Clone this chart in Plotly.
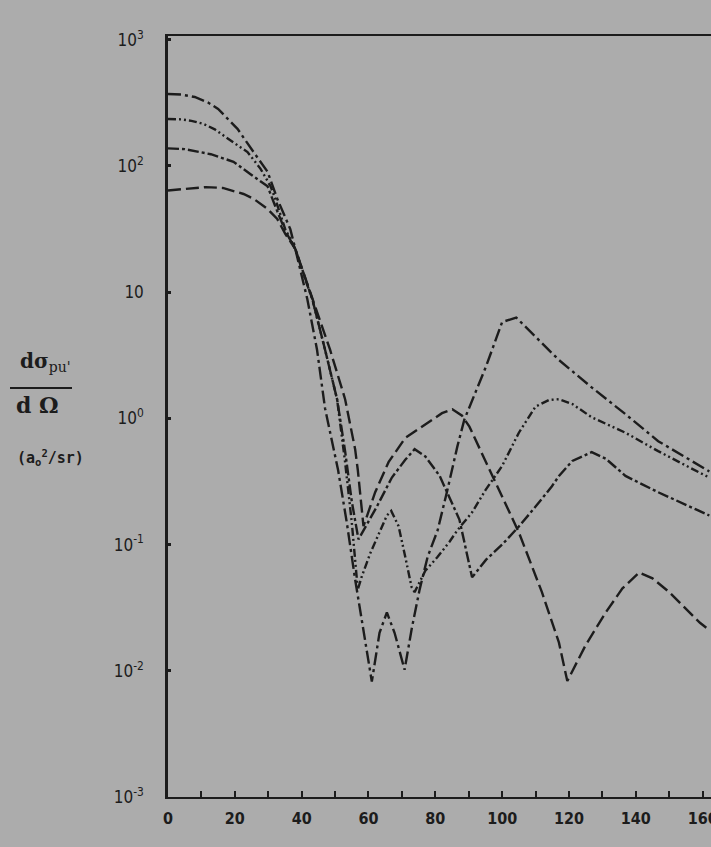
import plotly.graph_objects as go

# Scattering angle (deg) and cross section values (a0^2/sr)
deg_a = [0, 4, 8, 12, 15, 20.8, 25.6, 29.8, 32.7, 36.6, 38.1, 41.7, 44.6, 47, 50.9, 53.5, 56, 58.5, 61,
         63.3, 65.5, 67.8, 70.8, 73, 75.3, 77.7, 80.7, 83.6, 86.6, 88.7, 92, 95.2, 100, 104.2, 108,
         112, 117, 126.8, 136.9, 146.7, 159.2, 162]
val_a = [372, 368, 352, 318, 283, 197, 129, 90, 55, 31.6, 22, 8.8, 3.5, 1.2, 0.39, 0.15, 0.053, 0.021, 0.0082,
         0.02, 0.029, 0.02, 0.0102, 0.022, 0.044, 0.080, 0.13, 0.27, 0.60, 0.98, 1.6, 2.59, 5.8, 6.3, 5.0,
         3.9, 2.9, 1.76, 1.08, 0.66, 0.42, 0.38]

deg_b = [0, 4, 7, 10.7, 14, 17.9, 20.8, 23.8, 27.7, 30.7, 32.1, 35, 38.1, 40.5, 43.2, 47, 50.6, 53, 55,
         56.8, 58, 60.5, 62.8, 65.5, 66.8, 69, 71, 72.9, 73.8, 77, 80.7, 84.2, 86.6, 91, 95, 100, 105,
         110, 114, 117, 121, 126.8, 136.9, 146.7, 159.2, 162]
val_b = [236, 234, 228, 215, 195, 164, 146, 129, 95, 69, 55, 32, 22, 14, 8.8, 3.5, 1.42, 0.45, 0.15,
         0.044, 0.056, 0.085, 0.116, 0.17, 0.185, 0.14, 0.08, 0.046, 0.042, 0.062, 0.08, 0.105, 0.13,
         0.18, 0.27, 0.42, 0.77, 1.24, 1.4, 1.42, 1.3, 1.02, 0.77, 0.55, 0.37, 0.34]

deg_c = [0, 5, 12.8, 19.6, 24.7, 29.8, 32.1, 35, 38.1, 43.2, 47, 50.6, 53, 55, 57, 62.5, 67, 71, 73.8,
         77, 81.3, 87.2, 91, 95.2, 100, 105, 110, 114.9, 117, 121, 126.8, 131, 136.9, 146.7, 158, 162]
val_c = [138, 136, 124, 108, 86, 69, 48, 31, 22, 8.8, 3.5, 1.42, 0.55, 0.22, 0.11, 0.2, 0.34, 0.47, 0.57,
         0.5, 0.35, 0.158, 0.055, 0.076, 0.1, 0.139, 0.2, 0.29, 0.35, 0.46, 0.54, 0.48, 0.35, 0.26, 0.19, 0.17]

deg_d = [0, 5, 11.3, 16.4, 22.6, 25.6, 29.8, 32.7, 35.1, 38.1, 43.2, 48.5, 53, 56, 56.8, 58.5, 62, 66,
         71, 78.3, 82, 85.1, 88, 90.2, 97, 105, 111.9, 117, 119.5, 125, 131, 136, 141, 145, 150, 159.2, 162]
val_d = [64, 66, 68, 67, 60, 55, 45.6, 38, 29, 22, 8.8, 3.5, 1.42, 0.57, 0.39, 0.14, 0.26, 0.45,
         0.7, 0.95, 1.1, 1.18, 1.05, 0.86, 0.35, 0.125, 0.042, 0.0167, 0.0083, 0.016, 0.029, 0.045, 0.060,
         0.054, 0.042, 0.024, 0.021]

x_tickvals = [0, 20, 40, 60, 80, 100, 120, 140, 160]
x_ticktext = ["0", "20", "40", "60", "80", "100", "120", "140", "160"]
y_tickvals = [1e-3, 1e-2, 1e-1, 1, 10, 100, 1000]
y_ticktext = ["10<sup>-3</sup>", "10<sup>-2</sup>", "10<sup>-1</sup>", "10<sup>0</sup>", "10",
              "10<sup>2</sup>", "10<sup>3</sup>"]

INK = "#1c1c1c"
BG = "#acacac"
TICKFONT = "Liberation Sans Narrow, DejaVu Sans Condensed, DejaVu Sans"

fig = go.Figure()
series = [
    (deg_a, val_a, "13px,4px,3px,4px"),
    (deg_b, val_b, "8px,3px,2px,3px,2px,3px"),
    (deg_c, val_c, "11px,3px,3px,3px"),
    (deg_d, val_d, "13px,5px"),
]
for xs, ys, dash in series:
    fig.add_trace(go.Scatter(x=xs, y=ys, mode="lines",
                             line=dict(color=INK, width=2.4, dash=dash),
                             showlegend=False, hoverinfo="skip"))

L, T, B = 168, 36, 50
W, H = 711, 847
pw, ph = W - L, H - T - B


def px(xp):
    return (xp - L) / pw


def py(yp):
    return (H - B - yp) / ph


fig.update_layout(
    width=W, height=H,
    margin=dict(l=L, r=0, t=T, b=B, autoexpand=False),
    paper_bgcolor=BG, plot_bgcolor=BG,
    font=dict(family=TICKFONT, color=INK),
    xaxis=dict(range=[0, 162.5], tickmode="array", tickvals=x_tickvals, ticktext=x_ticktext,
               ticks="inside", ticklen=6, tickwidth=1.5, tickcolor=INK,
               minor=dict(dtick=10, tick0=0, ticks="inside", ticklen=6, tickwidth=1.5,
                          tickcolor=INK, showgrid=False),
               showline=True, linecolor=INK, linewidth=2, mirror=True,
               showgrid=False, zeroline=False, automargin=False,
               tickfont=dict(size=16, color=INK, family=TICKFONT, weight="bold"),
               ticklabelstandoff=6, ticklabeloverflow="allow"),
    yaxis=dict(type="log", range=[-3, 3.03], tickvals=y_tickvals, ticktext=y_ticktext,
               ticks="inside", ticklen=3, tickwidth=2.5, tickcolor=INK,
               showline=True, linecolor=INK, linewidth=2.5, mirror=False,
               showgrid=False, zeroline=False, automargin=False,
               tickfont=dict(size=17, color=INK, family=TICKFONT),
               ticklabelstandoff=18),
)

fig.add_annotation(xref="paper", yref="paper", x=px(18), y=py(362), xanchor="left", yanchor="middle",
                   text="<b>dσ</b><sub>pu'</sub>", showarrow=False,
                   font=dict(family="DejaVu Serif", size=20, color=INK))
fig.add_annotation(xref="paper", yref="paper", x=px(14), y=py(405), xanchor="left", yanchor="middle",
                   text="<b>d Ω</b>", showarrow=False,
                   font=dict(family="DejaVu Serif", size=22, color=INK))
fig.add_annotation(xref="paper", yref="paper", x=px(15), y=py(457), xanchor="left", yanchor="middle",
                   text="<b>(a<sub>o</sub><sup>2</sup>/sr)</b>", showarrow=False,
                   font=dict(family="DejaVu Sans Mono", size=15, color=INK))
fig.add_shape(type="line", xref="paper", yref="paper", x0=px(10), x1=px(72), y0=py(388), y1=py(388),
              line=dict(color=INK, width=2))

fig.write_html("out.html")
